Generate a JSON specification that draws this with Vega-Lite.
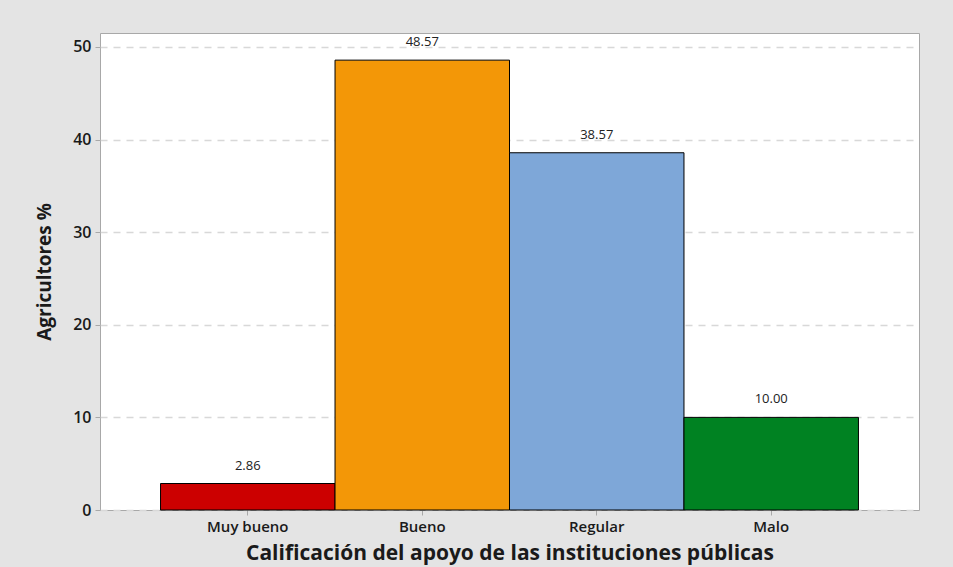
{
  "$schema": "https://vega.github.io/schema/vega-lite/v6.json",
  "autosize": {"type": "none"},
  "width": 819,
  "height": 477,
  "padding": {"left": 100, "top": 33, "right": 34, "bottom": 57},
  "background": "#e4e4e4",
  "config": {
    "view": {"fill": "white", "stroke": "#a8a8a8", "strokeWidth": 1},
    "font": "Open Sans"
  },
  "data": {
    "values": [
      {"cat": "Muy bueno", "pct": 2.86, "color": "#cc0000"},
      {"cat": "Bueno", "pct": 48.57, "color": "#f39707"},
      {"cat": "Regular", "pct": 38.57, "color": "#7ea7d8"},
      {"cat": "Malo", "pct": 10.0, "color": "#008222"}
    ]
  },
  "encoding": {
    "x": {
      "field": "cat",
      "type": "nominal",
      "sort": null,
      "scale": {"paddingInner": 0, "paddingOuter": 0.347},
      "axis": {
        "title": "Calificación del apoyo de las instituciones públicas",
        "titleFontSize": 21,
        "titleFontWeight": "bold",
        "titleColor": "#1a1a1a",
        "titlePadding": 8,
        "labelAngle": 0,
        "labelFontSize": 15,
        "labelFontWeight": 600,
        "labelColor": "#1a1a1a",
        "labelPadding": 4,
        "domain": false,
        "tickColor": "#a8a8a8",
        "tickSize": 5
      }
    },
    "y": {
      "field": "pct",
      "type": "quantitative",
      "scale": {"domain": [0, 51.5], "nice": false},
      "axis": {
        "title": "Agricultores %",
        "titleFontSize": 19,
        "titleFontWeight": "bold",
        "titleColor": "#1a1a1a",
        "titlePadding": 18,
        "values": [0, 10, 20, 30, 40, 50],
        "labelFontSize": 16,
        "labelFontWeight": 600,
        "labelColor": "#1a1a1a",
        "labelPadding": 4,
        "domain": false,
        "tickColor": "#a8a8a8",
        "tickSize": 5,
        "grid": true,
        "gridColor": "#d8d8d8",
        "gridWidth": 1.5,
        "gridDash": [7, 6]
      }
    }
  },
  "layer": [
    {
      "mark": {"type": "bar", "stroke": "black", "strokeWidth": 1},
      "encoding": {
        "fill": {"field": "color", "type": "nominal", "scale": null}
      }
    },
    {
      "mark": {"type": "text", "baseline": "bottom", "dy": -11, "fontSize": 13, "color": "#222222"},
      "encoding": {
        "text": {"field": "pct", "type": "quantitative", "format": ".2f"}
      }
    }
  ]
}
